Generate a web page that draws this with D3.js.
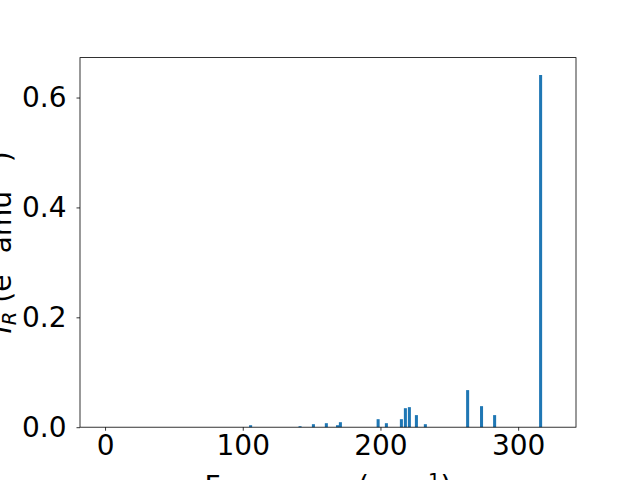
<!DOCTYPE html>
<html>
<head>
<meta charset="utf-8">
<script src="https://cdn.jsdelivr.net/npm/d3@7"></script>
<style>
  html, body { margin: 0; padding: 0; background: #fff; }
  svg { display: block; }
  text { font-family: "DejaVu Sans", sans-serif; fill: #000; }
</style>
</head>
<body>
<svg id="chart" width="640" height="480"></svg>
<script>
// Data
const frequencies = [105.7, 141.6, 151.3, 160.7, 168.8, 170.9, 198.3, 204.3, 215.2, 218.1, 221.0, 226.1, 232.6, 263.3, 273.4, 282.9, 316.3];
const intensities = [0.0036, 0.0018, 0.0055, 0.0073, 0.0036, 0.0091, 0.0146, 0.0073, 0.0146, 0.0346, 0.0365, 0.022, 0.0055, 0.0675, 0.0383, 0.022, 0.641];
const xTicks = [0, 100, 200, 300];
const yTicks = [0.0, 0.2, 0.4, 0.6];
const xDomain = [-18.2, 342];
const yDomain = [0, 0.6727];
const barWidth = 2.2;

const W = 640, H = 480;
const m = { left: 80, right: 64, top: 57.6, bottom: 52.8 };
const svg = d3.select("#chart");
svg.append("rect").attr("width", W).attr("height", H).attr("fill", "#fff");

const x = d3.scaleLinear().domain(xDomain).range([m.left, W - m.right]);
const y = d3.scaleLinear().domain(yDomain).range([H - m.bottom, m.top]);

const data = frequencies.map((f, i) => ({ f, v: intensities[i] }));

svg.append("g").selectAll("rect").data(data).join("rect")
  .attr("x", d => x(d.f - barWidth / 2))
  .attr("width", d => x(d.f + barWidth / 2) - x(d.f - barWidth / 2))
  .attr("y", d => y(d.v))
  .attr("height", d => y(0) - y(d.v))
  .attr("fill", "#1f77b4");

const fs = 28;
const xAxis = svg.append("g")
  .attr("transform", `translate(0,${H - m.bottom})`)
  .call(d3.axisBottom(x).tickValues(xTicks).tickFormat(d3.format("d")).tickSizeOuter(0).tickSize(3.5).tickPadding(4));
xAxis.select(".domain").remove();
xAxis.selectAll("text").style("font-size", fs + "px").attr("font-family", "DejaVu Sans");
xAxis.selectAll("line").attr("stroke", "#000").attr("stroke-width", 0.8);

const yAxis = svg.append("g")
  .attr("transform", `translate(${m.left},0)`)
  .call(d3.axisLeft(y).tickValues(yTicks).tickFormat(d3.format(".1f")).tickSizeOuter(0).tickSize(3.5).tickPadding(10));
yAxis.select(".domain").remove();
yAxis.selectAll("text").style("font-size", fs + "px").attr("font-family", "DejaVu Sans");
yAxis.selectAll("line").attr("stroke", "#000").attr("stroke-width", 0.8);

// spines
svg.append("rect")
  .attr("x", m.left).attr("y", m.top)
  .attr("width", W - m.left - m.right).attr("height", H - m.top - m.bottom)
  .attr("fill", "none").attr("stroke", "#000").attr("stroke-width", 0.8);

// x label
const xl = svg.append("text")
  .attr("x", (m.left + W - m.right) / 2).attr("y", 496)
  .attr("text-anchor", "middle").style("font-size", fs + "px");
xl.append("tspan").text("Frequency (cm");
xl.append("tspan").attr("dy", -9).style("font-size", (fs * 0.7) + "px").text("\u22121");
xl.append("tspan").attr("dy", 9).text(")");

// y label
const yl = svg.append("text")
  .attr("transform", `translate(11,${(m.top + H - m.bottom) / 2}) rotate(-90)`)
  .attr("text-anchor", "middle").style("font-size", fs + "px");
yl.append("tspan").style("font-style", "italic").text("I");
yl.append("tspan").attr("dy", 5).style("font-style", "italic").style("font-size", (fs * 0.7) + "px").text("R");
yl.append("tspan").attr("dy", -5).text(" (e");
yl.append("tspan").attr("dy", -12).style("font-size", (fs * 0.7) + "px").text("2");
yl.append("tspan").attr("dy", 12).text(" amu");
yl.append("tspan").attr("dy", -12).style("font-size", (fs * 0.7) + "px").text("\u22121");
yl.append("tspan").attr("dy", 12).text(")");
</script>
</body>
</html>
